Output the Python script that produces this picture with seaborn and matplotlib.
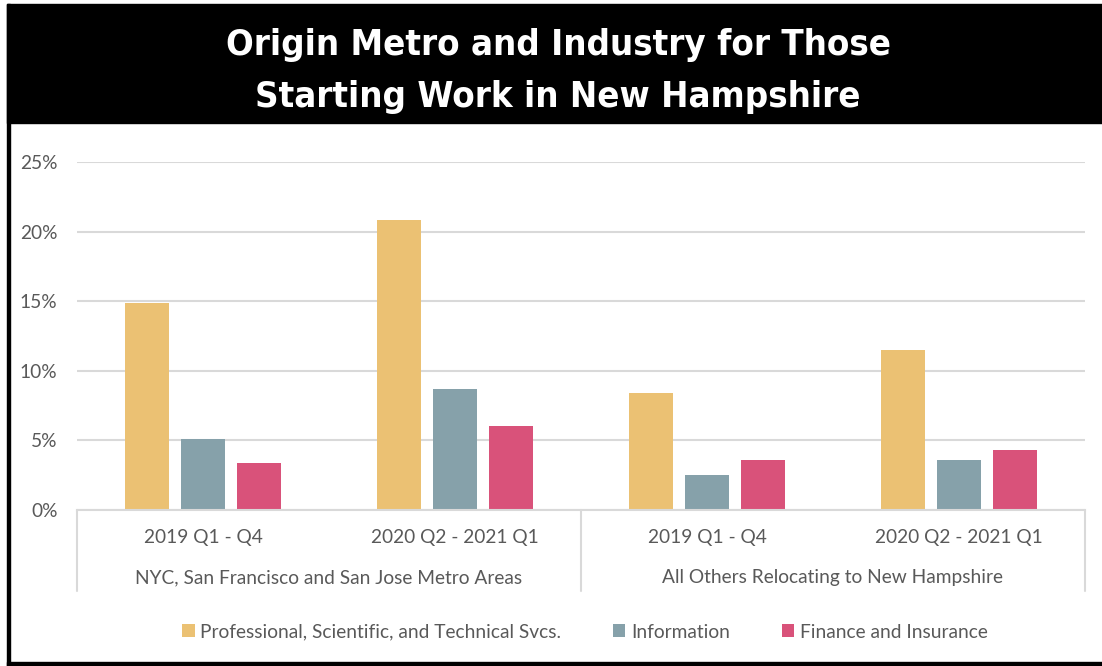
import matplotlib
matplotlib.use("Agg")
import matplotlib.pyplot as plt
import matplotlib.font_manager as fm
from matplotlib.patches import Rectangle
from matplotlib.lines import Line2D
from matplotlib.ticker import FuncFormatter, MultipleLocator
from matplotlib.textpath import TextPath
import seaborn as sns
import pandas as pd

# ---- data ----
groups = ["NYC, San Francisco and San Jose Metro Areas",
          "All Others Relocating to New Hampshire"]
periods = ["2019 Q1 - Q4", "2020 Q2 - 2021 Q1"]
industries = ["Professional, Scientific, and Technical Svcs.",
              "Information", "Finance and Insurance"]
prof_sci_tech = [14.9, 20.8, 8.4, 11.5]
information = [5.1, 8.7, 2.5, 3.6]
finance_insurance = [3.4, 6.0, 3.6, 4.3]
colors = ["#EBC173", "#86A1AA", "#D9527A"]
title_lines = ["Origin Metro and Industry for Those",
               "Starting Work in New Hampshire"]

sns.set_theme(style="white")
names = {f.name for f in fm.fontManager.ttflist}
body_font = "Lato" if "Lato" in names else "DejaVu Sans"
plt.rcParams["font.family"] = [body_font, "DejaVu Sans"]


def _w(e):
    w = e.weight
    if isinstance(w, str):
        w = fm.weight_dict.get(w, 400)
    return w


allowed = {"Noto Sans", "Roboto", "Roboto Condensed", "Open Sans",
           "Open Sans Condensed", "DejaVu Sans", "Liberation Sans Narrow",
           "Noto Sans Condensed", "Noto Sans SemiCondensed"}
cands = []
for e in fm.fontManager.ttflist:
    fn = e.fname.lower()
    if e.name not in allowed or "mono" in fn or "mono" in e.name.lower():
        continue
    if e.style != "normal" or _w(e) < 600 or _w(e) > 800:
        continue
    if ("condensed" in fn or "narrow" in fn or
            (isinstance(e.stretch, str) and "condensed" in e.stretch) or
            (isinstance(e.stretch, int) and e.stretch < 500)):
        cands.append(e)

TARGET_CAP = 28.5
TARGET_W = 647.0
tr_ratio = TARGET_W / TARGET_CAP
best, best_err = None, 1e9
for e in cands[:60]:
    try:
        fp = fm.FontProperties(fname=e.fname)
        cap = TextPath((0, 0), "H", prop=fp, size=30).get_extents().height
        wid = TextPath((0, 0), title_lines[0], prop=fp, size=30).get_extents().width
        err = abs(wid / cap - tr_ratio) / tr_ratio + 0.15 * abs(_w(e) - 650) / 100
        if err < best_err:
            best, best_err = (e.fname, cap / 30, wid / 30), err
    except Exception:
        continue

if best:
    title_fp = fm.FontProperties(fname=best[0])
    cap_per_pt, w_per_pt = best[1], best[2]
    size_px = ((TARGET_W / w_per_pt) ** 0.75) * ((TARGET_CAP / cap_per_pt) ** 0.25)
    title_size = size_px * 72 / 100
else:
    title_fp = fm.FontProperties(family="DejaVu Sans", weight="bold",
                                 stretch="condensed")
    title_size = 26

rows = []
keys = [f"{g}|{p}" for g in groups for p in periods]
series = [prof_sci_tech, information, finance_insurance]
for ind, vals in zip(industries, series):
    for k, v in zip(keys, vals):
        rows.append({"key": k, "industry": ind, "value": v / 100.0})
df = pd.DataFrame(rows)

W, H = 1102, 666
FS = 13.8
fig = plt.figure(figsize=(W / 100, H / 100), dpi=100)
ax = fig.add_axes([77 / W, (H - 510) / H, (1085 - 77) / W, (510 - 162) / H])

sns.barplot(data=df, x="key", y="value", hue="industry", order=keys,
            hue_order=industries, palette=colors, width=0.667, gap=0.22,
            linewidth=0, saturation=1, ax=ax, legend=True)

ax.set_ylim(0, 0.25)
ax.set_xlim(-0.5, 3.5)
ax.yaxis.set_major_locator(MultipleLocator(0.05))
ax.yaxis.set_major_formatter(FuncFormatter(lambda v, p: f"{v * 100:.0f}%"))
ax.grid(axis="y", color="#D9D9D9", linewidth=1.5)
ax.set_axisbelow(True)
for s in ["left", "right", "top"]:
    ax.spines[s].set_visible(False)
ax.spines["bottom"].set_color("#D9D9D9")
ax.spines["bottom"].set_linewidth(1.5)
ax.tick_params(axis="y", length=0, pad=14, labelsize=FS, labelcolor="#595959")
ax.set_xticks(range(len(keys)))
ax.set_xticklabels([])
ax.tick_params(axis="x", length=0)
ax.set_xlabel("")
ax.set_ylabel("")

tr = ax.get_xaxis_transform()
axh = 510 - 162
for i, k in enumerate(keys):
    ax.text(i, -(538 - 510) / axh, k.split("|")[1], transform=tr,
            ha="center", va="center", fontsize=FS, color="#595959")
for gi, g in enumerate(groups):
    ax.text(gi * 2 + 0.5, -(578 - 510) / axh, g, transform=tr,
            ha="center", va="center", fontsize=FS, color="#595959")
for xv in [-0.5, 1.5, 3.5]:
    ax.add_line(Line2D([xv, xv], [0, -(591 - 510) / axh], transform=tr,
                       color="#D9D9D9", linewidth=1.5, clip_on=False))

handles, labels = ax.get_legend_handles_labels()
ax.legend_.remove()
fig.legend(handles, labels, loc="center", bbox_to_anchor=(585 / W, 1 - 632 / H),
           ncol=3, frameon=False, fontsize=FS, handlelength=0.65,
           handleheight=0.65, handletextpad=0.3, columnspacing=2.7,
           labelcolor="#595959")

# frame and title band
fig.patches.append(Rectangle((7 / W, 1 - 123 / H), 1 - 7 / W, 119 / H,
                             transform=fig.transFigure, color="black", zorder=0))
fig.patches.append(Rectangle((7 / W, 0), 2.5 / W, 1 - 4 / H,
                             transform=fig.transFigure, color="black", zorder=0))
fig.patches.append(Rectangle((7 / W, 0), 1 - 7 / W, 4 / H,
                             transform=fig.transFigure, color="black", zorder=0))

for txt, base in [(title_lines[0], 55), (title_lines[1], 107)]:
    fig.text(558 / W, 1 - base / H, txt, ha="center", va="baseline",
             color="white", fontproperties=title_fp, fontsize=title_size)

fig.savefig("out.png", dpi=100)
